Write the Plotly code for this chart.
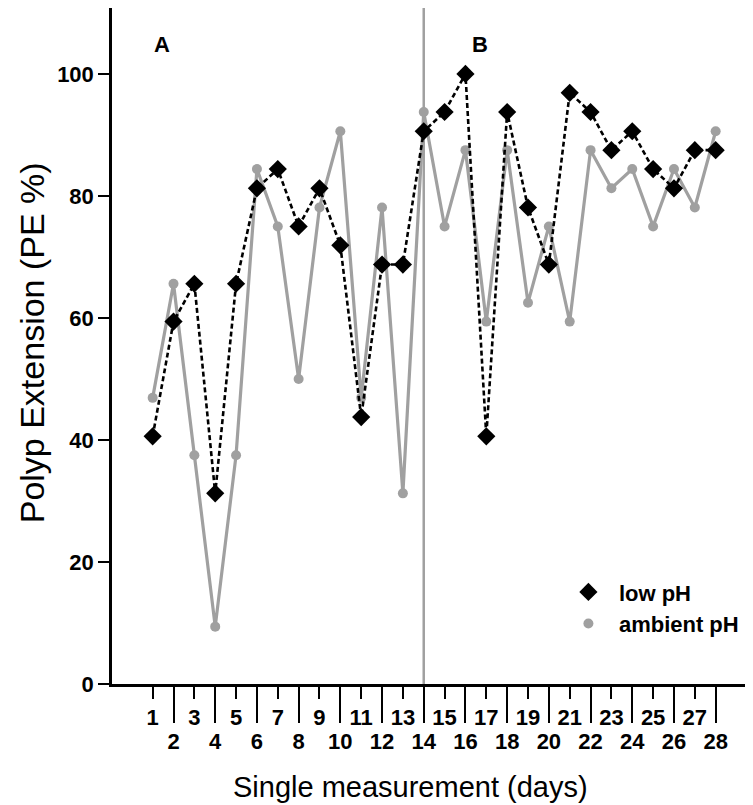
import plotly.graph_objects as go

days = list(range(1, 29))
low_ph = [40.6, 59.4, 65.6, 31.25, 65.6, 81.25, 84.4, 75.0, 81.25, 71.9, 43.75, 68.75, 68.75, 90.6,
          93.75, 100.0, 40.6, 93.75, 78.1, 68.75, 96.9, 93.75, 87.5, 90.6, 84.4, 81.25, 87.5, 87.5]
ambient_ph = [46.9, 65.6, 37.5, 9.4, 37.5, 84.4, 75.0, 50.0, 78.1, 90.6, 46.9, 78.1, 31.25, 93.75,
              75.0, 87.5, 59.4, 87.5, 62.5, 75.0, 59.4, 87.5, 81.25, 84.4, 75.0, 84.4, 78.1, 90.6]
odd_days = [d for d in days if d % 2 == 1]
even_days = [d for d in days if d % 2 == 0]
y_ticks = [0, 20, 40, 60, 80, 100]
divider_day = 14

GRAY = "#a0a0a0"
FONT = "Liberation Sans, Arial, sans-serif"
GAP = "\u00a0\u2009"

fig = go.Figure()
fig.add_trace(go.Scatter(
    x=days, y=ambient_ph, mode="lines+markers", showlegend=False,
    line=dict(color=GRAY, width=3.2),
    marker=dict(symbol="circle", size=10, color=GRAY),
))
fig.add_trace(go.Scatter(
    x=days, y=low_ph, mode="lines+markers", showlegend=False,
    line=dict(color="black", width=2.6, dash="5px,3px"),
    marker=dict(symbol="diamond", size=14, color="black"),
))
# legend-only entries (markers only)
fig.add_trace(go.Scatter(x=[None], y=[None], mode="markers", name="<b>" + GAP + "low pH</b>",
                         marker=dict(symbol="diamond", size=14, color="black")))
fig.add_trace(go.Scatter(x=[None], y=[None], mode="markers", name="<b>" + GAP + "ambient pH</b>",
                         marker=dict(symbol="circle", size=10, color=GRAY)))

# even-day axis (long ticks, second row of labels)
fig.add_trace(go.Scatter(x=[None], y=[None], xaxis="x2", showlegend=False))

fig.add_vline(x=divider_day, line=dict(color=GRAY, width=2.5), layer="below")

fig.add_annotation(x=1.45, y=104.8, text="<b>A</b>", showarrow=False,
                   font=dict(size=22, color="black", family=FONT))
fig.add_annotation(x=16.7, y=104.8, text="<b>B</b>", showarrow=False,
                   font=dict(size=22, color="black", family=FONT))
fig.add_annotation(xref="paper", yref="paper", x=0.4657, y=-0.152, xanchor="center", yanchor="middle",
                   text="Single measurement (days)", showarrow=False,
                   font=dict(size=29, color="black", family=FONT))
fig.add_annotation(xref="paper", yref="paper", x=-0.1248, y=0.504, xanchor="center", yanchor="middle",
                   text="Polyp Extension (PE %)", textangle=-90, showarrow=False,
                   font=dict(size=34, color="black", family=FONT))

xr = [-0.95, 29.79]
fig.update_layout(
    width=745, height=797,
    margin=dict(l=104, r=0, t=0, b=121),
    plot_bgcolor="white", paper_bgcolor="white",
    font=dict(family=FONT, color="black"),
    xaxis=dict(
        range=xr, tickmode="array", tickvals=odd_days,
        ticktext=[f"<b>{d}</b>" for d in odd_days],
        ticks="outside", ticklen=12, tickwidth=2, tickcolor="black",
        showline=True, linewidth=2.5, linecolor="black", mirror=True,
        showgrid=False, zeroline=False, automargin=False,
        tickfont=dict(size=22, family=FONT),
    ),
    xaxis2=dict(
        range=xr, overlaying="x", anchor="y", side="bottom",
        tickmode="array", tickvals=even_days,
        ticktext=[f"<b>{d}</b>" for d in even_days],
        ticks="outside", ticklen=38, tickwidth=2, tickcolor="black",
        showline=False, showgrid=False, zeroline=False, automargin=False,
        tickfont=dict(size=22, family=FONT),
    ),
    yaxis=dict(
        range=[0, 110.8], tickmode="array", tickvals=y_ticks,
        ticktext=[f"<b>{v}</b>" for v in y_ticks],
        ticks="outside", ticklen=11, tickwidth=2, tickcolor="black",
        showline=True, linewidth=2.5, linecolor="black",
        showgrid=False, zeroline=False, automargin=False,
        tickfont=dict(size=22, family=FONT),
    ),
    legend=dict(x=0.712, y=0.167, xanchor="left", yanchor="top",
                font=dict(size=22, family=FONT), bgcolor="rgba(0,0,0,0)",
                tracegroupgap=0, itemwidth=30),
)
fig.write_html("out.html")
